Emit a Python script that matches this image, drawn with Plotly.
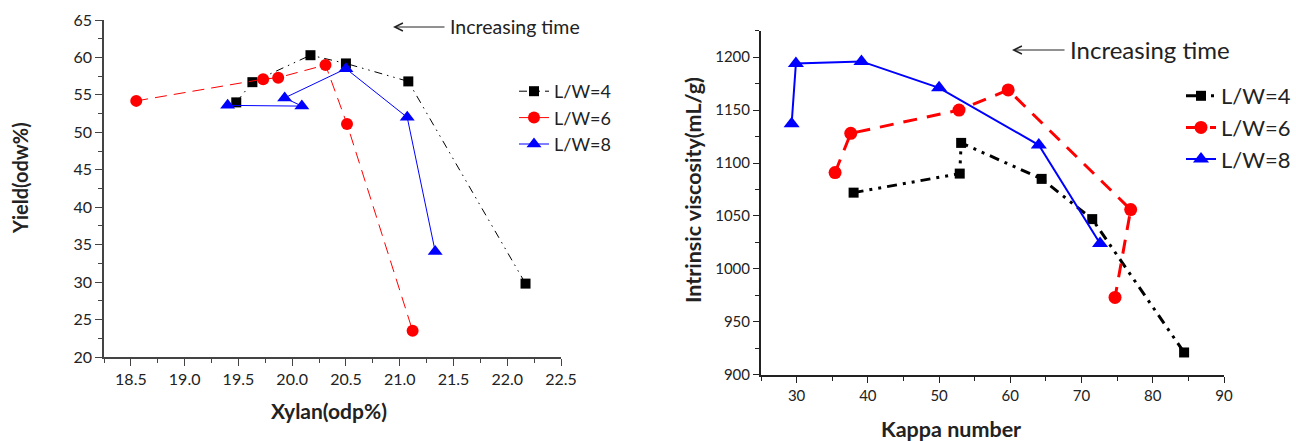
import plotly.graph_objects as go

W, H = 1296, 441

# ---- left panel: yield vs xylan ----
xylan_lw4 = [19.48, 19.63, 20.17, 20.50, 21.08, 22.17]
yield_lw4 = [54.0, 56.7, 60.3, 59.2, 56.8, 29.8]
xylan_lw6 = [18.55, 19.73, 19.87, 20.31, 20.51, 21.12]
yield_lw6 = [54.2, 57.1, 57.3, 59.0, 51.1, 23.5]
xylan_lw8 = [19.40, 20.09, 19.93, 20.50, 21.07, 21.33]
yield_lw8 = [53.6, 53.5, 54.6, 58.5, 52.0, 34.1]

# ---- right panel: intrinsic viscosity vs kappa ----
kappa_lw4 = [38.0, 52.9, 53.1, 64.4, 71.5, 84.4]
visc_lw4 = [1072, 1090, 1119, 1085, 1047, 921]
kappa_lw6 = [35.4, 37.6, 52.8, 59.7, 76.9, 74.7]
visc_lw6 = [1091, 1128, 1150, 1169, 1056, 973]
kappa_lw8 = [29.3, 29.9, 39.1, 50.0, 64.0, 72.6]
visc_lw8 = [1137, 1194, 1196, 1171, 1117, 1024]

series_names = ["L/W=4", "L/W=6", "L/W=8"]
FONT = "Lato"


def px(x):
    return x / W


def py(y):
    return 1 - y / H


fig = go.Figure()

left = [
    (xylan_lw4, yield_lw4, "black", "square", "8px,5px,1.5px,5px,1.5px,5px", 1, 10),
    (xylan_lw6, yield_lw6, "red", "circle", "12px,7px", 1, 12),
    (xylan_lw8, yield_lw8, "blue", "triangle-up", "solid", 1, 13),
]
for (x, y, c, sym, dash, lw, ms), name in zip(left, series_names):
    fig.add_trace(go.Scatter(
        x=x, y=y, name=name, mode="lines+markers",
        line=dict(color=c, width=lw, dash=dash),
        marker=dict(color=c, symbol=sym, size=ms),
        xaxis="x", yaxis="y", legend="legend", cliponaxis=False))

right = [
    (kappa_lw4, visc_lw4, "black", "square", "10px,6px,3px,6px,3px,6px", 3, 10),
    (kappa_lw6, visc_lw6, "red", "circle", "14px,10px", 3, 13),
    (kappa_lw8, visc_lw8, "blue", "triangle-up", "solid", 2, 14),
]
for (x, y, c, sym, dash, lw, ms), name in zip(right, series_names):
    fig.add_trace(go.Scatter(
        x=x, y=y, name=name, mode="lines+markers",
        line=dict(color=c, width=lw, dash=dash),
        marker=dict(color=c, symbol=sym, size=ms),
        xaxis="x2", yaxis="y2", legend="legend2", cliponaxis=False))

ax_common = dict(showgrid=False, zeroline=False, showline=True, ticks="outside",
                 mirror=False, automargin=False)

fig.update_layout(
    template="none",
    width=W, height=H,
    margin=dict(l=0, r=0, t=0, b=0, autoexpand=False),
    paper_bgcolor="white", plot_bgcolor="white",
    font=dict(family=FONT, color="#222"),
    xaxis=dict(domain=[px(104), px(561)], range=[18.25, 22.5], tick0=18.5, dtick=0.5,
               tickformat=".1f", linecolor="#444", linewidth=1.5, tickcolor="#444",
               ticklen=7, tickfont=dict(size=16),
               minor=dict(dtick=0.25, ticks="outside", ticklen=4, tickcolor="#444"),
               anchor="y", **ax_common),
    yaxis=dict(domain=[py(357), py(20)], range=[20, 65], dtick=5,
               linecolor="#444", linewidth=1.5, tickcolor="#444",
               ticklen=7, tickfont=dict(size=16),
               minor=dict(dtick=2.5, ticks="outside", ticklen=4, tickcolor="#444"),
               anchor="x", **ax_common),
    xaxis2=dict(domain=[px(761), px(1224)], range=[25, 90], tick0=30, dtick=10,
                linecolor="#222", linewidth=2, tickcolor="#222",
                ticklen=6, tickfont=dict(size=15),
                minor=dict(dtick=5, ticks="outside", ticklen=4, tickcolor="#222"),
                anchor="y2", **ax_common),
    yaxis2=dict(domain=[py(374.7), py(30.7)], range=[900, 1225], tick0=900, dtick=50,
                linecolor="#222", linewidth=2, tickcolor="#222",
                ticklen=6, tickfont=dict(size=15),
                minor=dict(dtick=25, ticks="outside", ticklen=4, tickcolor="#222"),
                anchor="x2", **ax_common),
    legend=dict(x=px(514), y=py(73), xanchor="left", yanchor="top",
                font=dict(size=18), bgcolor="rgba(0,0,0,0)", itemwidth=30),
    legend2=dict(x=px(1181), y=py(75), xanchor="left", yanchor="top",
                 font=dict(size=22), bgcolor="rgba(0,0,0,0)", itemwidth=30),
)

annotations = [
    # axis titles
    dict(x=px(329), y=py(410), text="<b>Xylan(odp%)</b>", font=dict(size=21)),
    dict(x=px(20), y=py(178), text="<b>Yield(odw%)</b>", font=dict(size=20),
         textangle=-90),
    dict(x=px(951), y=py(429), text="<b>Kappa number</b>", font=dict(size=21.5)),
    dict(x=px(693), y=py(190), text="<b>Intrinsic viscosity(mL/g)</b>",
         font=dict(size=21.5), textangle=-90),
    # "Increasing time" notes
    dict(x=px(448), y=py(27), text="Increasing time", xanchor="left",
         font=dict(size=19.5)),
    dict(x=px(1068), y=py(50), text="Increasing time", xanchor="left",
         font=dict(size=24)),
]
for a in annotations:
    a.setdefault("xref", "paper")
    a.setdefault("yref", "paper")
    a.setdefault("showarrow", False)
    a.setdefault("xanchor", "center")
    a.setdefault("yanchor", "middle")
    a["font"]["family"] = FONT
    a["font"]["color"] = "#222"
    fig.add_annotation(**a)

# arrows pointing left
for x_tip, x_tail, y_a in [(393, 446, 27), (1012, 1066, 50)]:
    fig.add_annotation(x=px(x_tip), y=py(y_a), xref="paper", yref="paper",
                       ax=x_tail - x_tip, ay=0, text="", showarrow=True,
                       arrowhead=5, arrowsize=1.6, arrowwidth=1, arrowcolor="#222")

# page body has a default margin; remove it so the figure sits at the corner
fig.write_html("out.html", config={"displayModeBar": False},
               post_script="document.body.style.margin='0px';")
